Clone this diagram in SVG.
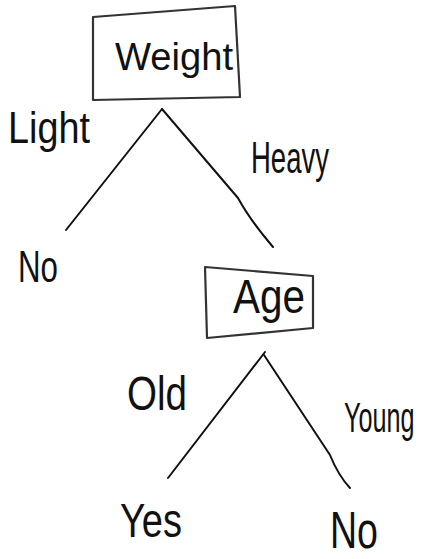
<svg xmlns="http://www.w3.org/2000/svg" width="425" height="559" viewBox="0 0 425 559">
<style>
.box{fill:none;stroke:#333;stroke-width:2.2;stroke-linejoin:round}
.edge{fill:none;stroke:#111;stroke-width:2;stroke-linecap:round;stroke-linejoin:round}
text{font-family:"Liberation Sans","DejaVu Sans",sans-serif;fill:#111;font-weight:normal}
</style>
<rect width="425" height="559" fill="#fff"/>
<g id="connectors">
<path class="edge" d="M162,109 L66,230"/>
<path class="edge" d="M162,109 L238,198 Q250,220 273,247"/>
<path class="edge" d="M265,352 L168,478"/>
<path class="edge" d="M264,355 L330,455 Q338,475 350,488"/>
<text x="8" y="143" font-size="44" textLength="82" lengthAdjust="spacingAndGlyphs">Light</text>
<text x="251" y="173" font-size="44" textLength="78" lengthAdjust="spacingAndGlyphs">Heavy</text>
<text x="127" y="410" font-size="48" textLength="60" lengthAdjust="spacingAndGlyphs">Old</text>
<text transform="translate(344,432) scale(0.6,1)" x="0" y="0" font-size="42">Young</text>
</g>
<g id="node-weight">
<path class="box" d="M93,17 L235,6 L240,97 L93,100 Z"/>
<text x="115" y="70" font-size="38" textLength="118" lengthAdjust="spacingAndGlyphs">Weight</text>
</g>
<g id="node-no-1">
<text x="18" y="282" font-size="44" textLength="40" lengthAdjust="spacingAndGlyphs">No</text>
</g>
<g id="node-age">
<path class="box" d="M205,267 L313,276 L313,328 L207,338 Z"/>
<text x="233" y="313" font-size="48" textLength="72" lengthAdjust="spacingAndGlyphs">Age</text>
</g>
<g id="node-yes">
<text x="120" y="537" font-size="48" textLength="62" lengthAdjust="spacingAndGlyphs">Yes</text>
</g>
<g id="node-no-2">
<text x="330" y="548" font-size="52" textLength="48" lengthAdjust="spacingAndGlyphs">No</text>
</g>
</svg>
